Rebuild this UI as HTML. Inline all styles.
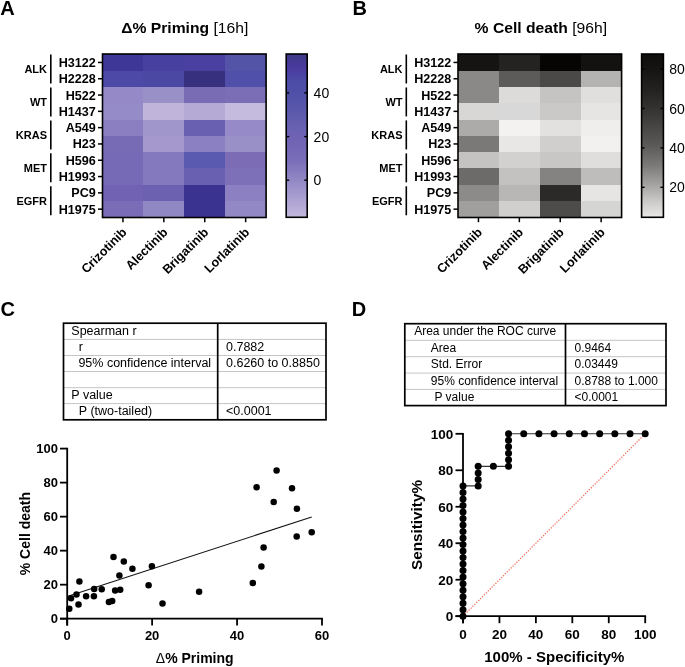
<!DOCTYPE html>
<html><head><meta charset="utf-8"><style>
html,body{margin:0;padding:0;background:#fff;width:685px;height:667px;overflow:hidden}
body{position:relative;font-family:"Liberation Sans", sans-serif}
svg text{font-family:"Liberation Sans", sans-serif}
</style></head><body>
<svg width="685" height="667" viewBox="0 0 685 667" style="position:absolute;left:0;top:0;filter:blur(0.35px)" font-family='"Liberation Sans", sans-serif'>
<defs>
<linearGradient id="gA" x1="0" y1="0" x2="0" y2="1">
<stop offset="0" stop-color="#3d3985"/><stop offset="0.083" stop-color="#4a3aa0"/><stop offset="0.16" stop-color="#4b4aa5"/>
<stop offset="0.24" stop-color="#5050a8"/><stop offset="0.343" stop-color="#5a58ac"/><stop offset="0.435" stop-color="#6660b0"/>
<stop offset="0.527" stop-color="#7064b3"/><stop offset="0.649" stop-color="#7a6db8"/><stop offset="0.772" stop-color="#9288c4"/>
<stop offset="0.894" stop-color="#ada2d2"/><stop offset="1" stop-color="#c2b8dd"/>
</linearGradient>
<linearGradient id="gB" x1="0" y1="0" x2="0" y2="1">
<stop offset="0" stop-color="#0e0d0c"/><stop offset="0.09" stop-color="#151413"/><stop offset="0.22" stop-color="#232221"/>
<stop offset="0.334" stop-color="#333231"/><stop offset="0.435" stop-color="#454443"/><stop offset="0.557" stop-color="#5a5958"/>
<stop offset="0.68" stop-color="#7a7978"/><stop offset="0.816" stop-color="#aaa9a7"/><stop offset="0.894" stop-color="#c8c7c5"/>
<stop offset="1" stop-color="#e9e8e6"/>
</linearGradient>
</defs>
<rect x="0" y="0" width="685" height="667" fill="#fff"/>
<text x="0.20" y="14.70" font-size="20" font-weight="bold" text-anchor="start" >A</text>
<text x="352.60" y="14.70" font-size="20" font-weight="bold" text-anchor="start" >B</text>
<text x="0.60" y="315.50" font-size="20" font-weight="bold" text-anchor="start" >C</text>
<text x="351.80" y="315.50" font-size="20" font-weight="bold" text-anchor="start" >D</text>
<text transform="translate(121.2,33.1) scale(1.075,1)" font-size="14.6"><tspan font-weight="bold">&#916;% Priming</tspan> [16h]</text>
<text transform="translate(474.6,33.2) scale(1.075,1)" font-size="14.6"><tspan font-weight="bold">% Cell death</tspan> [96h]</text>
<rect x="102.50" y="54.30" width="41.20" height="16.60" fill="#3f3797" shape-rendering="crispEdges"/>
<rect x="143.40" y="54.30" width="41.20" height="16.60" fill="#4740a0" shape-rendering="crispEdges"/>
<rect x="184.30" y="54.30" width="41.20" height="16.60" fill="#4a40a2" shape-rendering="crispEdges"/>
<rect x="225.20" y="54.30" width="41.20" height="16.60" fill="#5353a8" shape-rendering="crispEdges"/>
<rect x="102.50" y="70.60" width="41.20" height="16.60" fill="#4c4aa6" shape-rendering="crispEdges"/>
<rect x="143.40" y="70.60" width="41.20" height="16.60" fill="#4a48a2" shape-rendering="crispEdges"/>
<rect x="184.30" y="70.60" width="41.20" height="16.60" fill="#36307e" shape-rendering="crispEdges"/>
<rect x="225.20" y="70.60" width="41.20" height="16.60" fill="#5050aa" shape-rendering="crispEdges"/>
<rect x="102.50" y="86.90" width="41.20" height="16.60" fill="#9589c8" shape-rendering="crispEdges"/>
<rect x="143.40" y="86.90" width="41.20" height="16.60" fill="#9a90c8" shape-rendering="crispEdges"/>
<rect x="184.30" y="86.90" width="41.20" height="16.60" fill="#7a6cb4" shape-rendering="crispEdges"/>
<rect x="225.20" y="86.90" width="41.20" height="16.60" fill="#7c6eb6" shape-rendering="crispEdges"/>
<rect x="102.50" y="103.20" width="41.20" height="16.60" fill="#968bc9" shape-rendering="crispEdges"/>
<rect x="143.40" y="103.20" width="41.20" height="16.60" fill="#c0b4da" shape-rendering="crispEdges"/>
<rect x="184.30" y="103.20" width="41.20" height="16.60" fill="#b5aad6" shape-rendering="crispEdges"/>
<rect x="225.20" y="103.20" width="41.20" height="16.60" fill="#c5bbdf" shape-rendering="crispEdges"/>
<rect x="102.50" y="119.50" width="41.20" height="16.60" fill="#8b7fc2" shape-rendering="crispEdges"/>
<rect x="143.40" y="119.50" width="41.20" height="16.60" fill="#a196cc" shape-rendering="crispEdges"/>
<rect x="184.30" y="119.50" width="41.20" height="16.60" fill="#6a60b2" shape-rendering="crispEdges"/>
<rect x="225.20" y="119.50" width="41.20" height="16.60" fill="#978ac8" shape-rendering="crispEdges"/>
<rect x="102.50" y="135.80" width="41.20" height="16.60" fill="#776bb5" shape-rendering="crispEdges"/>
<rect x="143.40" y="135.80" width="41.20" height="16.60" fill="#a598cc" shape-rendering="crispEdges"/>
<rect x="184.30" y="135.80" width="41.20" height="16.60" fill="#8b80c2" shape-rendering="crispEdges"/>
<rect x="225.20" y="135.80" width="41.20" height="16.60" fill="#9a90c8" shape-rendering="crispEdges"/>
<rect x="102.50" y="152.10" width="41.20" height="16.60" fill="#7669b6" shape-rendering="crispEdges"/>
<rect x="143.40" y="152.10" width="41.20" height="16.60" fill="#8478be" shape-rendering="crispEdges"/>
<rect x="184.30" y="152.10" width="41.20" height="16.60" fill="#5a5ab0" shape-rendering="crispEdges"/>
<rect x="225.20" y="152.10" width="41.20" height="16.60" fill="#7c6cb6" shape-rendering="crispEdges"/>
<rect x="102.50" y="168.40" width="41.20" height="16.60" fill="#7669b6" shape-rendering="crispEdges"/>
<rect x="143.40" y="168.40" width="41.20" height="16.60" fill="#8478be" shape-rendering="crispEdges"/>
<rect x="184.30" y="168.40" width="41.20" height="16.60" fill="#6a60b2" shape-rendering="crispEdges"/>
<rect x="225.20" y="168.40" width="41.20" height="16.60" fill="#7e70b8" shape-rendering="crispEdges"/>
<rect x="102.50" y="184.70" width="41.20" height="16.60" fill="#7262b4" shape-rendering="crispEdges"/>
<rect x="143.40" y="184.70" width="41.20" height="16.60" fill="#6c60b0" shape-rendering="crispEdges"/>
<rect x="184.30" y="184.70" width="41.20" height="16.60" fill="#3b3390" shape-rendering="crispEdges"/>
<rect x="225.20" y="184.70" width="41.20" height="16.60" fill="#8c80c2" shape-rendering="crispEdges"/>
<rect x="102.50" y="201.00" width="41.20" height="16.60" fill="#7a6cb6" shape-rendering="crispEdges"/>
<rect x="143.40" y="201.00" width="41.20" height="16.60" fill="#9088c4" shape-rendering="crispEdges"/>
<rect x="184.30" y="201.00" width="41.20" height="16.60" fill="#3b3390" shape-rendering="crispEdges"/>
<rect x="225.20" y="201.00" width="41.20" height="16.60" fill="#9288c6" shape-rendering="crispEdges"/>
<rect x="102.50" y="54.0" width="163.60" height="163.5" fill="none" stroke="#000" stroke-width="1.6"/>
<line x1="98.00" y1="62.45" x2="102.50" y2="62.45" stroke="#000" stroke-width="1.5" />
<text transform="translate(95.80,66.95) scale(1.05,1)" font-size="12" font-weight="bold" text-anchor="end">H3122</text>
<line x1="98.00" y1="78.75" x2="102.50" y2="78.75" stroke="#000" stroke-width="1.5" />
<text transform="translate(95.80,83.25) scale(1.05,1)" font-size="12" font-weight="bold" text-anchor="end">H2228</text>
<line x1="98.00" y1="95.05" x2="102.50" y2="95.05" stroke="#000" stroke-width="1.5" />
<text transform="translate(95.80,99.55) scale(1.05,1)" font-size="12" font-weight="bold" text-anchor="end">H522</text>
<line x1="98.00" y1="111.35" x2="102.50" y2="111.35" stroke="#000" stroke-width="1.5" />
<text transform="translate(95.80,115.85) scale(1.05,1)" font-size="12" font-weight="bold" text-anchor="end">H1437</text>
<line x1="98.00" y1="127.65" x2="102.50" y2="127.65" stroke="#000" stroke-width="1.5" />
<text transform="translate(95.80,132.15) scale(1.05,1)" font-size="12" font-weight="bold" text-anchor="end">A549</text>
<line x1="98.00" y1="143.95" x2="102.50" y2="143.95" stroke="#000" stroke-width="1.5" />
<text transform="translate(95.80,148.45) scale(1.05,1)" font-size="12" font-weight="bold" text-anchor="end">H23</text>
<line x1="98.00" y1="160.25" x2="102.50" y2="160.25" stroke="#000" stroke-width="1.5" />
<text transform="translate(95.80,164.75) scale(1.05,1)" font-size="12" font-weight="bold" text-anchor="end">H596</text>
<line x1="98.00" y1="176.55" x2="102.50" y2="176.55" stroke="#000" stroke-width="1.5" />
<text transform="translate(95.80,181.05) scale(1.05,1)" font-size="12" font-weight="bold" text-anchor="end">H1993</text>
<line x1="98.00" y1="192.85" x2="102.50" y2="192.85" stroke="#000" stroke-width="1.5" />
<text transform="translate(95.80,197.35) scale(1.05,1)" font-size="12" font-weight="bold" text-anchor="end">PC9</text>
<line x1="98.00" y1="209.15" x2="102.50" y2="209.15" stroke="#000" stroke-width="1.5" />
<text transform="translate(95.80,213.65) scale(1.05,1)" font-size="12" font-weight="bold" text-anchor="end">H1975</text>
<line x1="50.80" y1="54.50" x2="50.80" y2="83.50" stroke="#000" stroke-width="1.6" />
<text x="47.00" y="72.90" font-size="11" font-weight="bold" text-anchor="end" >ALK</text>
<line x1="50.80" y1="87.45" x2="50.80" y2="116.45" stroke="#000" stroke-width="1.6" />
<text x="47.00" y="105.85" font-size="11" font-weight="bold" text-anchor="end" >WT</text>
<line x1="50.80" y1="120.40" x2="50.80" y2="149.40" stroke="#000" stroke-width="1.6" />
<text x="47.00" y="138.80" font-size="11" font-weight="bold" text-anchor="end" >KRAS</text>
<line x1="50.80" y1="153.35" x2="50.80" y2="182.35" stroke="#000" stroke-width="1.6" />
<text x="47.00" y="171.75" font-size="11" font-weight="bold" text-anchor="end" >MET</text>
<line x1="50.80" y1="186.30" x2="50.80" y2="215.30" stroke="#000" stroke-width="1.6" />
<text x="47.00" y="204.70" font-size="11" font-weight="bold" text-anchor="end" >EGFR</text>
<line x1="122.95" y1="217.50" x2="122.95" y2="222.20" stroke="#000" stroke-width="1.5" />
<text transform="translate(127.45,233.00) rotate(-45)" font-size="12.6" font-weight="bold" text-anchor="end">Crizotinib</text>
<line x1="163.85" y1="217.50" x2="163.85" y2="222.20" stroke="#000" stroke-width="1.5" />
<text transform="translate(168.35,233.00) rotate(-45)" font-size="12.6" font-weight="bold" text-anchor="end">Alectinib</text>
<line x1="204.75" y1="217.50" x2="204.75" y2="222.20" stroke="#000" stroke-width="1.5" />
<text transform="translate(209.25,233.00) rotate(-45)" font-size="12.6" font-weight="bold" text-anchor="end">Brigatinib</text>
<line x1="245.65" y1="217.50" x2="245.65" y2="222.20" stroke="#000" stroke-width="1.5" />
<text transform="translate(250.15,233.00) rotate(-45)" font-size="12.6" font-weight="bold" text-anchor="end">Lorlatinib</text>
<rect x="286.20" y="54.0" width="21.00" height="163.3" fill="url(#gA)" stroke="#000" stroke-width="1.6"/>
<line x1="286.20" y1="92.90" x2="289.20" y2="92.90" stroke="#000" stroke-width="1.4" />
<line x1="304.20" y1="92.90" x2="307.20" y2="92.90" stroke="#000" stroke-width="1.4" />
<text x="313.60" y="97.90" font-size="14" font-weight="normal" text-anchor="start" >40</text>
<line x1="286.20" y1="136.60" x2="289.20" y2="136.60" stroke="#000" stroke-width="1.4" />
<line x1="304.20" y1="136.60" x2="307.20" y2="136.60" stroke="#000" stroke-width="1.4" />
<text x="313.60" y="141.60" font-size="14" font-weight="normal" text-anchor="start" >20</text>
<line x1="286.20" y1="180.20" x2="289.20" y2="180.20" stroke="#000" stroke-width="1.4" />
<line x1="304.20" y1="180.20" x2="307.20" y2="180.20" stroke="#000" stroke-width="1.4" />
<text x="313.60" y="185.20" font-size="14" font-weight="normal" text-anchor="start" >0</text>
<rect x="458.00" y="54.30" width="41.20" height="16.60" fill="#151413" shape-rendering="crispEdges"/>
<rect x="498.90" y="54.30" width="41.20" height="16.60" fill="#242322" shape-rendering="crispEdges"/>
<rect x="539.80" y="54.30" width="41.20" height="16.60" fill="#060504" shape-rendering="crispEdges"/>
<rect x="580.70" y="54.30" width="41.20" height="16.60" fill="#131211" shape-rendering="crispEdges"/>
<rect x="458.00" y="70.60" width="41.20" height="16.60" fill="#8a8987" shape-rendering="crispEdges"/>
<rect x="498.90" y="70.60" width="41.20" height="16.60" fill="#5c5b59" shape-rendering="crispEdges"/>
<rect x="539.80" y="70.60" width="41.20" height="16.60" fill="#4a4948" shape-rendering="crispEdges"/>
<rect x="580.70" y="70.60" width="41.20" height="16.60" fill="#b4b3b1" shape-rendering="crispEdges"/>
<rect x="458.00" y="86.90" width="41.20" height="16.60" fill="#8a8987" shape-rendering="crispEdges"/>
<rect x="498.90" y="86.90" width="41.20" height="16.60" fill="#dcdbd9" shape-rendering="crispEdges"/>
<rect x="539.80" y="86.90" width="41.20" height="16.60" fill="#c5c4c2" shape-rendering="crispEdges"/>
<rect x="580.70" y="86.90" width="41.20" height="16.60" fill="#e0dfdd" shape-rendering="crispEdges"/>
<rect x="458.00" y="103.20" width="41.20" height="16.60" fill="#d8d7d5" shape-rendering="crispEdges"/>
<rect x="498.90" y="103.20" width="41.20" height="16.60" fill="#d8d8d8" shape-rendering="crispEdges"/>
<rect x="539.80" y="103.20" width="41.20" height="16.60" fill="#cac9c7" shape-rendering="crispEdges"/>
<rect x="580.70" y="103.20" width="41.20" height="16.60" fill="#e6e5e3" shape-rendering="crispEdges"/>
<rect x="458.00" y="119.50" width="41.20" height="16.60" fill="#acaba9" shape-rendering="crispEdges"/>
<rect x="498.90" y="119.50" width="41.20" height="16.60" fill="#f3f2f0" shape-rendering="crispEdges"/>
<rect x="539.80" y="119.50" width="41.20" height="16.60" fill="#e2e1df" shape-rendering="crispEdges"/>
<rect x="580.70" y="119.50" width="41.20" height="16.60" fill="#efeeec" shape-rendering="crispEdges"/>
<rect x="458.00" y="135.80" width="41.20" height="16.60" fill="#7a7978" shape-rendering="crispEdges"/>
<rect x="498.90" y="135.80" width="41.20" height="16.60" fill="#e8e7e5" shape-rendering="crispEdges"/>
<rect x="539.80" y="135.80" width="41.20" height="16.60" fill="#d0cfcd" shape-rendering="crispEdges"/>
<rect x="580.70" y="135.80" width="41.20" height="16.60" fill="#f2f1ef" shape-rendering="crispEdges"/>
<rect x="458.00" y="152.10" width="41.20" height="16.60" fill="#c4c3c1" shape-rendering="crispEdges"/>
<rect x="498.90" y="152.10" width="41.20" height="16.60" fill="#d2d1cf" shape-rendering="crispEdges"/>
<rect x="539.80" y="152.10" width="41.20" height="16.60" fill="#c8c7c5" shape-rendering="crispEdges"/>
<rect x="580.70" y="152.10" width="41.20" height="16.60" fill="#dfdedc" shape-rendering="crispEdges"/>
<rect x="458.00" y="168.40" width="41.20" height="16.60" fill="#6c6b69" shape-rendering="crispEdges"/>
<rect x="498.90" y="168.40" width="41.20" height="16.60" fill="#c3c2c0" shape-rendering="crispEdges"/>
<rect x="539.80" y="168.40" width="41.20" height="16.60" fill="#848382" shape-rendering="crispEdges"/>
<rect x="580.70" y="168.40" width="41.20" height="16.60" fill="#bebdbb" shape-rendering="crispEdges"/>
<rect x="458.00" y="184.70" width="41.20" height="16.60" fill="#8c8b89" shape-rendering="crispEdges"/>
<rect x="498.90" y="184.70" width="41.20" height="16.60" fill="#b8b7b5" shape-rendering="crispEdges"/>
<rect x="539.80" y="184.70" width="41.20" height="16.60" fill="#2c2a28" shape-rendering="crispEdges"/>
<rect x="580.70" y="184.70" width="41.20" height="16.60" fill="#e6e5e3" shape-rendering="crispEdges"/>
<rect x="458.00" y="201.00" width="41.20" height="16.60" fill="#a19f9d" shape-rendering="crispEdges"/>
<rect x="498.90" y="201.00" width="41.20" height="16.60" fill="#d0cfcd" shape-rendering="crispEdges"/>
<rect x="539.80" y="201.00" width="41.20" height="16.60" fill="#4e4c4b" shape-rendering="crispEdges"/>
<rect x="580.70" y="201.00" width="41.20" height="16.60" fill="#d5d5d3" shape-rendering="crispEdges"/>
<rect x="458.00" y="54.0" width="163.60" height="163.5" fill="none" stroke="#000" stroke-width="1.6"/>
<line x1="453.50" y1="62.45" x2="458.00" y2="62.45" stroke="#000" stroke-width="1.5" />
<text transform="translate(451.30,66.95) scale(1.05,1)" font-size="12" font-weight="bold" text-anchor="end">H3122</text>
<line x1="453.50" y1="78.75" x2="458.00" y2="78.75" stroke="#000" stroke-width="1.5" />
<text transform="translate(451.30,83.25) scale(1.05,1)" font-size="12" font-weight="bold" text-anchor="end">H2228</text>
<line x1="453.50" y1="95.05" x2="458.00" y2="95.05" stroke="#000" stroke-width="1.5" />
<text transform="translate(451.30,99.55) scale(1.05,1)" font-size="12" font-weight="bold" text-anchor="end">H522</text>
<line x1="453.50" y1="111.35" x2="458.00" y2="111.35" stroke="#000" stroke-width="1.5" />
<text transform="translate(451.30,115.85) scale(1.05,1)" font-size="12" font-weight="bold" text-anchor="end">H1437</text>
<line x1="453.50" y1="127.65" x2="458.00" y2="127.65" stroke="#000" stroke-width="1.5" />
<text transform="translate(451.30,132.15) scale(1.05,1)" font-size="12" font-weight="bold" text-anchor="end">A549</text>
<line x1="453.50" y1="143.95" x2="458.00" y2="143.95" stroke="#000" stroke-width="1.5" />
<text transform="translate(451.30,148.45) scale(1.05,1)" font-size="12" font-weight="bold" text-anchor="end">H23</text>
<line x1="453.50" y1="160.25" x2="458.00" y2="160.25" stroke="#000" stroke-width="1.5" />
<text transform="translate(451.30,164.75) scale(1.05,1)" font-size="12" font-weight="bold" text-anchor="end">H596</text>
<line x1="453.50" y1="176.55" x2="458.00" y2="176.55" stroke="#000" stroke-width="1.5" />
<text transform="translate(451.30,181.05) scale(1.05,1)" font-size="12" font-weight="bold" text-anchor="end">H1993</text>
<line x1="453.50" y1="192.85" x2="458.00" y2="192.85" stroke="#000" stroke-width="1.5" />
<text transform="translate(451.30,197.35) scale(1.05,1)" font-size="12" font-weight="bold" text-anchor="end">PC9</text>
<line x1="453.50" y1="209.15" x2="458.00" y2="209.15" stroke="#000" stroke-width="1.5" />
<text transform="translate(451.30,213.65) scale(1.05,1)" font-size="12" font-weight="bold" text-anchor="end">H1975</text>
<line x1="406.30" y1="54.50" x2="406.30" y2="83.50" stroke="#000" stroke-width="1.6" />
<text x="402.50" y="72.90" font-size="11" font-weight="bold" text-anchor="end" >ALK</text>
<line x1="406.30" y1="87.45" x2="406.30" y2="116.45" stroke="#000" stroke-width="1.6" />
<text x="402.50" y="105.85" font-size="11" font-weight="bold" text-anchor="end" >WT</text>
<line x1="406.30" y1="120.40" x2="406.30" y2="149.40" stroke="#000" stroke-width="1.6" />
<text x="402.50" y="138.80" font-size="11" font-weight="bold" text-anchor="end" >KRAS</text>
<line x1="406.30" y1="153.35" x2="406.30" y2="182.35" stroke="#000" stroke-width="1.6" />
<text x="402.50" y="171.75" font-size="11" font-weight="bold" text-anchor="end" >MET</text>
<line x1="406.30" y1="186.30" x2="406.30" y2="215.30" stroke="#000" stroke-width="1.6" />
<text x="402.50" y="204.70" font-size="11" font-weight="bold" text-anchor="end" >EGFR</text>
<line x1="478.45" y1="217.50" x2="478.45" y2="222.20" stroke="#000" stroke-width="1.5" />
<text transform="translate(482.95,233.00) rotate(-45)" font-size="12.6" font-weight="bold" text-anchor="end">Crizotinib</text>
<line x1="519.35" y1="217.50" x2="519.35" y2="222.20" stroke="#000" stroke-width="1.5" />
<text transform="translate(523.85,233.00) rotate(-45)" font-size="12.6" font-weight="bold" text-anchor="end">Alectinib</text>
<line x1="560.25" y1="217.50" x2="560.25" y2="222.20" stroke="#000" stroke-width="1.5" />
<text transform="translate(564.75,233.00) rotate(-45)" font-size="12.6" font-weight="bold" text-anchor="end">Brigatinib</text>
<line x1="601.15" y1="217.50" x2="601.15" y2="222.20" stroke="#000" stroke-width="1.5" />
<text transform="translate(605.65,233.00) rotate(-45)" font-size="12.6" font-weight="bold" text-anchor="end">Lorlatinib</text>
<rect x="641.60" y="54.0" width="21.80" height="163.3" fill="url(#gB)" stroke="#000" stroke-width="1.6"/>
<line x1="641.60" y1="68.90" x2="644.60" y2="68.90" stroke="#000" stroke-width="1.4" />
<line x1="660.40" y1="68.90" x2="663.40" y2="68.90" stroke="#000" stroke-width="1.4" />
<text x="669.20" y="73.90" font-size="14" font-weight="normal" text-anchor="start" >80</text>
<line x1="641.60" y1="108.50" x2="644.60" y2="108.50" stroke="#000" stroke-width="1.4" />
<line x1="660.40" y1="108.50" x2="663.40" y2="108.50" stroke="#000" stroke-width="1.4" />
<text x="669.20" y="113.50" font-size="14" font-weight="normal" text-anchor="start" >60</text>
<line x1="641.60" y1="147.90" x2="644.60" y2="147.90" stroke="#000" stroke-width="1.4" />
<line x1="660.40" y1="147.90" x2="663.40" y2="147.90" stroke="#000" stroke-width="1.4" />
<text x="669.20" y="152.90" font-size="14" font-weight="normal" text-anchor="start" >40</text>
<line x1="641.60" y1="187.30" x2="644.60" y2="187.30" stroke="#000" stroke-width="1.4" />
<line x1="660.40" y1="187.30" x2="663.40" y2="187.30" stroke="#000" stroke-width="1.4" />
<text x="669.20" y="192.30" font-size="14" font-weight="normal" text-anchor="start" >20</text>
<line x1="63.50" y1="339.40" x2="326.00" y2="339.40" stroke="#c4c4c4" stroke-width="1.0" />
<line x1="63.50" y1="355.50" x2="326.00" y2="355.50" stroke="#c4c4c4" stroke-width="1.0" />
<line x1="63.50" y1="371.50" x2="326.00" y2="371.50" stroke="#c4c4c4" stroke-width="1.0" />
<line x1="63.50" y1="387.70" x2="326.00" y2="387.70" stroke="#c4c4c4" stroke-width="1.0" />
<line x1="63.50" y1="403.60" x2="326.00" y2="403.60" stroke="#c4c4c4" stroke-width="1.0" />
<rect x="63.50" y="323.20" width="262.50" height="96.60" fill="none" stroke="#000" stroke-width="1.7"/>
<line x1="217.70" y1="323.20" x2="217.70" y2="419.80" stroke="#000" stroke-width="1.7" />
<text x="71.30" y="334.70" font-size="12.5" font-weight="normal" text-anchor="start" >Spearman r</text>
<text x="78.80" y="350.85" font-size="12.5" font-weight="normal" text-anchor="start" >r</text>
<text x="226.00" y="350.85" font-size="12.5" font-weight="normal" text-anchor="start" >0.7882</text>
<text x="78.40" y="366.90" font-size="12.5" font-weight="normal" text-anchor="start" >95% confidence interval</text>
<text x="226.00" y="366.90" font-size="12.5" font-weight="normal" text-anchor="start" >0.6260 to 0.8850</text>
<text x="71.30" y="399.05" font-size="12.5" font-weight="normal" text-anchor="start" >P value</text>
<text x="78.80" y="415.10" font-size="12.5" font-weight="normal" text-anchor="start" >P (two-tailed)</text>
<text x="226.00" y="415.10" font-size="12.5" font-weight="normal" text-anchor="start" >&lt;0.0001</text>
<line x1="404.80" y1="340.30" x2="666.00" y2="340.30" stroke="#c4c4c4" stroke-width="1.0" />
<line x1="404.80" y1="356.70" x2="666.00" y2="356.70" stroke="#c4c4c4" stroke-width="1.0" />
<line x1="404.80" y1="373.10" x2="666.00" y2="373.10" stroke="#c4c4c4" stroke-width="1.0" />
<line x1="404.80" y1="389.40" x2="666.00" y2="389.40" stroke="#c4c4c4" stroke-width="1.0" />
<rect x="404.80" y="323.70" width="261.20" height="81.90" fill="none" stroke="#000" stroke-width="1.7"/>
<line x1="565.50" y1="323.70" x2="565.50" y2="405.60" stroke="#000" stroke-width="1.7" />
<text x="414.20" y="335.40" font-size="12" font-weight="normal" text-anchor="start" >Area under the ROC curve</text>
<text x="430.80" y="351.90" font-size="12" font-weight="normal" text-anchor="start" >Area</text>
<text x="574.50" y="351.90" font-size="12" font-weight="normal" text-anchor="start" >0.9464</text>
<text x="430.80" y="368.30" font-size="12" font-weight="normal" text-anchor="start" >Std. Error</text>
<text x="574.50" y="368.30" font-size="12" font-weight="normal" text-anchor="start" >0.03449</text>
<text x="430.80" y="384.65" font-size="12" font-weight="normal" text-anchor="start" >95% confidence interval</text>
<text x="574.50" y="384.65" font-size="12" font-weight="normal" text-anchor="start" >0.8788 to 1.000</text>
<text x="434.50" y="400.90" font-size="12" font-weight="normal" text-anchor="start" >P value</text>
<text x="574.50" y="400.90" font-size="12" font-weight="normal" text-anchor="start" >&lt;0.0001</text>
<line x1="67.20" y1="447.80" x2="67.20" y2="625.50" stroke="#000" stroke-width="1.8" />
<line x1="60.00" y1="618.70" x2="322.90" y2="618.70" stroke="#000" stroke-width="1.8" />
<line x1="60.00" y1="618.70" x2="67.20" y2="618.70" stroke="#000" stroke-width="1.8" />
<text x="58.00" y="623.40" font-size="13" font-weight="bold" text-anchor="end" >0</text>
<line x1="60.00" y1="584.68" x2="67.20" y2="584.68" stroke="#000" stroke-width="1.8" />
<text x="58.00" y="589.38" font-size="13" font-weight="bold" text-anchor="end" >20</text>
<line x1="60.00" y1="550.66" x2="67.20" y2="550.66" stroke="#000" stroke-width="1.8" />
<text x="58.00" y="555.36" font-size="13" font-weight="bold" text-anchor="end" >40</text>
<line x1="60.00" y1="516.64" x2="67.20" y2="516.64" stroke="#000" stroke-width="1.8" />
<text x="58.00" y="521.34" font-size="13" font-weight="bold" text-anchor="end" >60</text>
<line x1="60.00" y1="482.62" x2="67.20" y2="482.62" stroke="#000" stroke-width="1.8" />
<text x="58.00" y="487.32" font-size="13" font-weight="bold" text-anchor="end" >80</text>
<line x1="60.00" y1="448.60" x2="67.20" y2="448.60" stroke="#000" stroke-width="1.8" />
<text x="58.00" y="453.30" font-size="13" font-weight="bold" text-anchor="end" >100</text>
<line x1="67.20" y1="618.70" x2="67.20" y2="625.50" stroke="#000" stroke-width="1.8" />
<text x="67.20" y="640.00" font-size="13" font-weight="bold" text-anchor="middle" >0</text>
<line x1="152.13" y1="618.70" x2="152.13" y2="625.50" stroke="#000" stroke-width="1.8" />
<text x="152.13" y="640.00" font-size="13" font-weight="bold" text-anchor="middle" >20</text>
<line x1="237.07" y1="618.70" x2="237.07" y2="625.50" stroke="#000" stroke-width="1.8" />
<text x="237.07" y="640.00" font-size="13" font-weight="bold" text-anchor="middle" >40</text>
<line x1="322.00" y1="618.70" x2="322.00" y2="625.50" stroke="#000" stroke-width="1.8" />
<text x="322.00" y="640.00" font-size="13" font-weight="bold" text-anchor="middle" >60</text>
<line x1="67.20" y1="596.60" x2="311.70" y2="517.00" stroke="#111" stroke-width="1.1" />
<circle cx="69.3" cy="608.8" r="3.25" fill="#000"/>
<circle cx="71" cy="598.3" r="3.25" fill="#000"/>
<circle cx="76.5" cy="594.6" r="3.25" fill="#000"/>
<circle cx="78.5" cy="604.5" r="3.25" fill="#000"/>
<circle cx="79.4" cy="581.4" r="3.25" fill="#000"/>
<circle cx="86.1" cy="596.2" r="3.25" fill="#000"/>
<circle cx="93.9" cy="596.2" r="3.25" fill="#000"/>
<circle cx="94.2" cy="589.1" r="3.25" fill="#000"/>
<circle cx="101.7" cy="589.3" r="3.25" fill="#000"/>
<circle cx="108.9" cy="601.9" r="3.25" fill="#000"/>
<circle cx="112.2" cy="601" r="3.25" fill="#000"/>
<circle cx="113.5" cy="557" r="3.25" fill="#000"/>
<circle cx="115.1" cy="590.5" r="3.25" fill="#000"/>
<circle cx="120.2" cy="589.7" r="3.25" fill="#000"/>
<circle cx="119.4" cy="575.6" r="3.25" fill="#000"/>
<circle cx="123.8" cy="561.6" r="3.25" fill="#000"/>
<circle cx="132.4" cy="568.7" r="3.25" fill="#000"/>
<circle cx="148.6" cy="585.2" r="3.25" fill="#000"/>
<circle cx="151.9" cy="566.2" r="3.25" fill="#000"/>
<circle cx="162.5" cy="603.6" r="3.25" fill="#000"/>
<circle cx="199.1" cy="591.7" r="3.25" fill="#000"/>
<circle cx="252.8" cy="583.1" r="3.25" fill="#000"/>
<circle cx="261.4" cy="566.6" r="3.25" fill="#000"/>
<circle cx="263.6" cy="547.4" r="3.25" fill="#000"/>
<circle cx="276.6" cy="470.6" r="3.25" fill="#000"/>
<circle cx="256.6" cy="487.3" r="3.25" fill="#000"/>
<circle cx="292" cy="488.2" r="3.25" fill="#000"/>
<circle cx="273.7" cy="502.1" r="3.25" fill="#000"/>
<circle cx="296.9" cy="508.7" r="3.25" fill="#000"/>
<circle cx="311.7" cy="532.3" r="3.25" fill="#000"/>
<circle cx="296.7" cy="536.6" r="3.25" fill="#000"/>
<text transform="translate(30.2,533.6) rotate(-90)" font-size="14" font-weight="bold" text-anchor="middle">% Cell death</text>
<text x="194.7" y="662.5" font-size="14" font-weight="bold" text-anchor="middle"><tspan font-weight="normal">&#916;</tspan>% Priming</text>
<line x1="455.50" y1="616.20" x2="646.10" y2="616.20" stroke="#000" stroke-width="1.8" />
<line x1="463.00" y1="433.00" x2="463.00" y2="623.20" stroke="#000" stroke-width="1.8" />
<line x1="455.50" y1="616.20" x2="463.00" y2="616.20" stroke="#000" stroke-width="1.8" />
<text x="453.30" y="621.00" font-size="13.5" font-weight="bold" text-anchor="end" >0</text>
<line x1="463.00" y1="616.20" x2="463.00" y2="623.20" stroke="#000" stroke-width="1.8" />
<text x="463.00" y="638.90" font-size="13.5" font-weight="bold" text-anchor="middle" >0</text>
<line x1="455.50" y1="579.72" x2="463.00" y2="579.72" stroke="#000" stroke-width="1.8" />
<text x="453.30" y="584.52" font-size="13.5" font-weight="bold" text-anchor="end" >20</text>
<line x1="499.44" y1="616.20" x2="499.44" y2="623.20" stroke="#000" stroke-width="1.8" />
<text x="499.44" y="638.90" font-size="13.5" font-weight="bold" text-anchor="middle" >20</text>
<line x1="455.50" y1="543.24" x2="463.00" y2="543.24" stroke="#000" stroke-width="1.8" />
<text x="453.30" y="548.04" font-size="13.5" font-weight="bold" text-anchor="end" >40</text>
<line x1="535.88" y1="616.20" x2="535.88" y2="623.20" stroke="#000" stroke-width="1.8" />
<text x="535.88" y="638.90" font-size="13.5" font-weight="bold" text-anchor="middle" >40</text>
<line x1="455.50" y1="506.76" x2="463.00" y2="506.76" stroke="#000" stroke-width="1.8" />
<text x="453.30" y="511.56" font-size="13.5" font-weight="bold" text-anchor="end" >60</text>
<line x1="572.32" y1="616.20" x2="572.32" y2="623.20" stroke="#000" stroke-width="1.8" />
<text x="572.32" y="638.90" font-size="13.5" font-weight="bold" text-anchor="middle" >60</text>
<line x1="455.50" y1="470.28" x2="463.00" y2="470.28" stroke="#000" stroke-width="1.8" />
<text x="453.30" y="475.08" font-size="13.5" font-weight="bold" text-anchor="end" >80</text>
<line x1="608.76" y1="616.20" x2="608.76" y2="623.20" stroke="#000" stroke-width="1.8" />
<text x="608.76" y="638.90" font-size="13.5" font-weight="bold" text-anchor="middle" >80</text>
<line x1="455.50" y1="433.80" x2="463.00" y2="433.80" stroke="#000" stroke-width="1.8" />
<text x="453.30" y="438.60" font-size="13.5" font-weight="bold" text-anchor="end" >100</text>
<line x1="645.20" y1="616.20" x2="645.20" y2="623.20" stroke="#000" stroke-width="1.8" />
<text x="645.20" y="638.90" font-size="13.5" font-weight="bold" text-anchor="middle" >100</text>
<line x1="463.00" y1="616.20" x2="645.20" y2="433.80" stroke="#ee6a55" stroke-width="1.2" stroke-dasharray="1.3,1.4"/>
<path d="M463.00,616.20 L463.00,616.20 L463.00,485.91 L478.18,485.91 L478.18,466.37 L508.55,466.37 L508.55,433.80 L645.20,433.80" fill="none" stroke="#333" stroke-width="1.1"/>
<circle cx="463.00" cy="616.20" r="3.5" fill="#000"/>
<circle cx="463.00" cy="609.69" r="3.5" fill="#000"/>
<circle cx="463.00" cy="603.17" r="3.5" fill="#000"/>
<circle cx="463.00" cy="596.66" r="3.5" fill="#000"/>
<circle cx="463.00" cy="590.14" r="3.5" fill="#000"/>
<circle cx="463.00" cy="583.63" r="3.5" fill="#000"/>
<circle cx="463.00" cy="577.11" r="3.5" fill="#000"/>
<circle cx="463.00" cy="570.60" r="3.5" fill="#000"/>
<circle cx="463.00" cy="564.09" r="3.5" fill="#000"/>
<circle cx="463.00" cy="557.57" r="3.5" fill="#000"/>
<circle cx="463.00" cy="551.06" r="3.5" fill="#000"/>
<circle cx="463.00" cy="544.54" r="3.5" fill="#000"/>
<circle cx="463.00" cy="538.03" r="3.5" fill="#000"/>
<circle cx="463.00" cy="531.51" r="3.5" fill="#000"/>
<circle cx="463.00" cy="525.00" r="3.5" fill="#000"/>
<circle cx="463.00" cy="518.49" r="3.5" fill="#000"/>
<circle cx="463.00" cy="511.97" r="3.5" fill="#000"/>
<circle cx="463.00" cy="505.46" r="3.5" fill="#000"/>
<circle cx="463.00" cy="498.94" r="3.5" fill="#000"/>
<circle cx="463.00" cy="492.43" r="3.5" fill="#000"/>
<circle cx="463.00" cy="485.91" r="3.5" fill="#000"/>
<circle cx="478.18" cy="485.91" r="3.5" fill="#000"/>
<circle cx="478.18" cy="479.40" r="3.5" fill="#000"/>
<circle cx="478.18" cy="472.89" r="3.5" fill="#000"/>
<circle cx="478.18" cy="466.37" r="3.5" fill="#000"/>
<circle cx="493.37" cy="466.37" r="3.5" fill="#000"/>
<circle cx="508.55" cy="466.37" r="3.5" fill="#000"/>
<circle cx="508.55" cy="459.86" r="3.5" fill="#000"/>
<circle cx="508.55" cy="453.34" r="3.5" fill="#000"/>
<circle cx="508.55" cy="446.83" r="3.5" fill="#000"/>
<circle cx="508.55" cy="440.31" r="3.5" fill="#000"/>
<circle cx="508.55" cy="433.80" r="3.5" fill="#000"/>
<circle cx="523.73" cy="433.80" r="3.5" fill="#000"/>
<circle cx="538.92" cy="433.80" r="3.5" fill="#000"/>
<circle cx="554.10" cy="433.80" r="3.5" fill="#000"/>
<circle cx="569.28" cy="433.80" r="3.5" fill="#000"/>
<circle cx="584.47" cy="433.80" r="3.5" fill="#000"/>
<circle cx="599.65" cy="433.80" r="3.5" fill="#000"/>
<circle cx="614.83" cy="433.80" r="3.5" fill="#000"/>
<circle cx="630.02" cy="433.80" r="3.5" fill="#000"/>
<circle cx="645.20" cy="433.80" r="3.5" fill="#000"/>
<text transform="translate(422.0,525) rotate(-90)" font-size="15.3" font-weight="bold" text-anchor="middle">Sensitivity%</text>
<text x="554.3" y="662.3" font-size="15" font-weight="bold" text-anchor="middle">100% - Specificity%</text>
</svg>
</body></html>
